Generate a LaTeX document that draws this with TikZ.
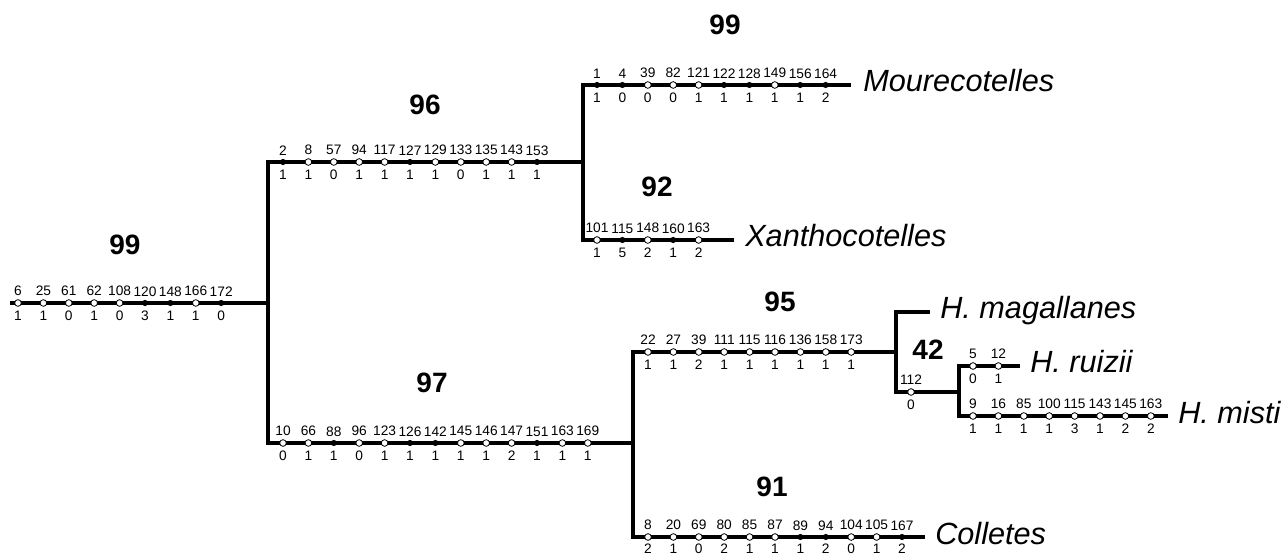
\documentclass[tikz,border=0pt]{standalone}
\usepackage{fontspec}
\setmainfont{Liberation Sans}
\usetikzlibrary{positioning}

\begin{document}
\begin{tikzpicture}[
			x=0.75pt, y=-0.75pt,
			branch/.style={line width=2.4pt},
			hom/.style={circle, draw, fill=white, line width=0.6pt, inner sep=0pt, minimum size=5pt},
			nonhom/.style={circle, fill=black, inner sep=0pt, minimum size=4.6pt},
			num/.style={font=\fontsize{10.3}{10}\selectfont, inner sep=0pt},
			boot/.style={font=\fontsize{21}{21}\selectfont\bfseries, inner sep=0pt},
			taxon/.style={font=\fontsize{23}{23}\selectfont\itshape, anchor=base west, inner sep=0pt},
			]
			\useasboundingbox (0,0) rectangle (1287,555);
			% internal nodes and tips
			\coordinate (rootL) at (10,303);
			\coordinate (nA) at (268,303);
			\coordinate (nB) at (583,162);
			\coordinate (nC) at (633,443);
			\coordinate (nD) at (896,352);
			\coordinate (nE) at (959,392);
			\coordinate (tMou) at (851,85);
			\coordinate (tXan) at (734,240);
			\coordinate (tMag) at (930,312);
			\coordinate (tRui) at (1020,366);
			\coordinate (tMis) at (1168,416);
			\coordinate (tCol) at (925,537);
			% branches
			\draw[branch] (rootL) -- (nA);
			\draw[branch] (nA) |- (nB);
			\draw[branch] (nA) |- (nC);
			\draw[branch] (nB) |- (tMou);
			\draw[branch] (nB) |- (tXan);
			\draw[branch] (nC) |- (nD);
			\draw[branch] (nC) |- (tCol);
			\draw[branch] (nD) |- (tMag);
			\draw[branch] (nD) |- (nE);
			\draw[branch] (nE) |- (tRui);
			\draw[branch] (nE) |- (tMis);
			% characters
			\foreach \c/\s/\t [count=\i from 0] in {6/1/hom,25/1/hom,61/0/hom,62/1/hom,108/0/hom,120/3/nonhom,148/1/nonhom,166/1/hom,172/0/nonhom}
				{\node[\t] (r\c) at ({18+25.4*\i},303) {};
				\node[num, above=2.3pt of r\c] (ra\c) {\c};
				\node[num, below=3pt of r\c] (rb\c) {\s};}
			\foreach \c/\s/\t [count=\i from 0] in {2/1/nonhom,8/1/hom,57/0/hom,94/1/hom,117/1/hom,127/1/nonhom,129/1/hom,133/0/hom,135/1/hom,143/1/hom,153/1/nonhom}
				{\node[\t] (u\c) at ({283+25.4*\i},162) {};
				\node[num, above=2.3pt of u\c] (ua\c) {\c};
				\node[num, below=3pt of u\c] (ub\c) {\s};}
			\foreach \c/\s/\t [count=\i from 0] in {1/1/nonhom,4/0/nonhom,39/0/hom,82/0/hom,121/1/hom,122/1/nonhom,128/1/nonhom,149/1/hom,156/1/nonhom,164/2/nonhom}
				{\node[\t] (m\c) at ({597+25.4*\i},85) {};
				\node[num, above=2.3pt of m\c] (ma\c) {\c};
				\node[num, below=3pt of m\c] (mb\c) {\s};}
			\foreach \c/\s/\t [count=\i from 0] in {101/1/hom,115/5/nonhom,148/2/hom,160/1/nonhom,163/2/hom}
				{\node[\t] (x\c) at ({597+25.4*\i},240) {};
				\node[num, above=2.3pt of x\c] (xa\c) {\c};
				\node[num, below=3pt of x\c] (xb\c) {\s};}
			\foreach \c/\s/\t [count=\i from 0] in {10/0/hom,66/1/hom,88/1/nonhom,96/0/hom,123/1/hom,126/1/nonhom,142/1/nonhom,145/1/hom,146/1/hom,147/2/hom,151/1/nonhom,163/1/hom,169/1/hom}
				{\node[\t] (l\c) at ({283+25.4*\i},443) {};
				\node[num, above=2.3pt of l\c] (la\c) {\c};
				\node[num, below=3pt of l\c] (lb\c) {\s};}
			\foreach \c/\s/\t [count=\i from 0] in {22/1/hom,27/1/hom,39/2/hom,111/1/hom,115/1/hom,116/1/hom,136/1/hom,158/1/hom,173/1/hom}
				{\node[\t] (h\c) at ({648+25.4*\i},352) {};
				\node[num, above=2.3pt of h\c] (ha\c) {\c};
				\node[num, below=3pt of h\c] (hb\c) {\s};}
			\foreach \c/\s/\t [count=\i from 0] in {112/0/hom}
				{\node[\t] (e\c) at ({911+25.4*\i},392) {};
				\node[num, above=2.3pt of e\c] (ea\c) {\c};
				\node[num, below=3pt of e\c] (eb\c) {\s};}
			\foreach \c/\s/\t [count=\i from 0] in {5/0/hom,12/1/hom}
				{\node[\t] (z\c) at ({973+25.4*\i},366) {};
				\node[num, above=2.3pt of z\c] (za\c) {\c};
				\node[num, below=3pt of z\c] (zb\c) {\s};}
			\foreach \c/\s/\t [count=\i from 0] in {9/1/hom,16/1/hom,85/1/hom,100/1/hom,115/3/hom,143/1/hom,145/2/hom,163/2/hom}
				{\node[\t] (s\c) at ({973+25.4*\i},416) {};
				\node[num, above=2.3pt of s\c] (sa\c) {\c};
				\node[num, below=3pt of s\c] (sb\c) {\s};}
			\foreach \c/\s/\t [count=\i from 0] in {8/2/hom,20/1/hom,69/0/hom,80/2/hom,85/1/hom,87/1/hom,89/1/nonhom,94/2/nonhom,104/0/hom,105/1/hom,167/2/nonhom}
				{\node[\t] (c\c) at ({648+25.4*\i},537) {};
				\node[num, above=2.3pt of c\c] (ca\c) {\c};
				\node[num, below=2.4pt of c\c] (cb\c) {\s};}
			% support values
			\node[boot] (bsRoot) at (125,245) {99};
			\node[boot] (bsUp) at (425,105) {96};
			\node[boot] (bsMou) at (725,25) {99};
			\node[boot] (bsXan) at (657,187) {92};
			\node[boot] (bsLow) at (432,383) {97};
			\node[boot] (bsHop) at (780,302) {95};
			\node[boot] (bsRM) at (928,350) {42};
			\node[boot] (bsCol) at (772,487) {91};
			% terminals
			\node[taxon] (lMou) at ([shift={(12,7)}]tMou) {Mourecotelles};
			\node[taxon] (lXan) at ([shift={(11,7)}]tXan) {Xanthocotelles};
			\node[taxon] (lMag) at ([shift={(10,7)}]tMag) {H. magallanes};
			\node[taxon] (lRui) at ([shift={(10,7)}]tRui) {H. ruizii};
			\node[taxon] (lMis) at ([shift={(10,7)}]tMis) {H. misti};
			\node[taxon] (lCol) at ([shift={(10,7)}]tCol) {Colletes};
		\end{tikzpicture}
\end{document}
